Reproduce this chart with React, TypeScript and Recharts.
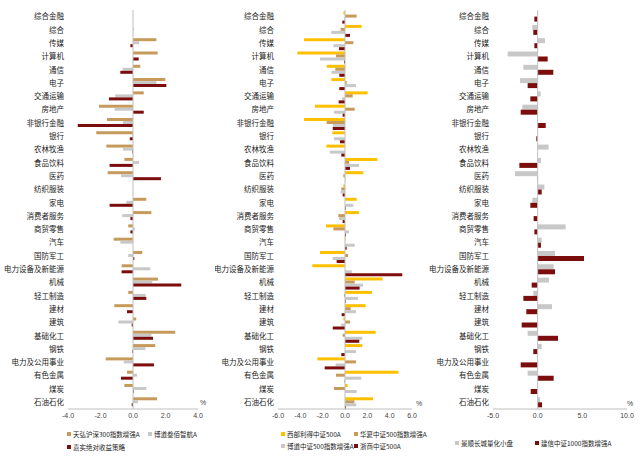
import React from 'react';
import { BarChart, Bar, XAxis, YAxis, ReferenceLine } from 'recharts';

const categories = ['综合金融','综合','传媒','计算机','通信','电子','交通运输','房地产','非银行金融','银行','农林牧渔','食品饮料','医药','纺织服装','家电','消费者服务','商贸零售','汽车','国防军工','电力设备及新能源','机械','轻工制造','建材','建筑','基础化工','钢铁','电力及公用事业','有色金属','煤炭','石油石化'];

// Panel 1
const p1Names = ['天弘沪深300指数增强A','博道叁佰智航A','嘉实绝对收益策略'];
const p1Tianhong = [0,0,1.44,1.52,0.45,1.99,0.66,-2.09,-1.6,-2.26,-1.64,-0.53,-1.56,0,0.82,1.13,-0.29,-1.19,0.57,-0.7,1.54,-0.29,-1.15,0.2,2.6,1.37,-1.68,-0.37,-0.53,1.48];
const p1Bodao = [0,0.05,0.37,0,-0.64,1.44,-1.09,-1.13,-0.62,-0.05,-0.62,0.37,-0.74,0,-0.41,-0.66,0.12,-0.78,-0.29,1.07,1.19,0.78,0,-0.9,1.13,0.76,-0.57,0.25,0.82,0.31];
const p1Jiashi = [0,0,-0.16,0.35,-0.78,2.05,-1.48,0.66,-3.4,-0.2,-0.04,-1.44,1.72,0,-1.44,-0.16,-0.16,0,0.08,-0.7,2.97,0.82,-0.37,-0.08,1.23,-0.04,1.29,-0.74,0.04,-0.08];
const p1Ticks = [-4,-2,0,2,4];

// Panel 2
const p2Names = ['西部利得中证500A','华夏中证500指数增强A','博道中证500指数增强A','浙商中证500A'];
const p2Xibu = [-0.15,1.49,-3.67,-4.27,-1.64,-1.22,2.03,-2.69,-3.67,-1.13,-1.67,2.9,1.64,-0.15,1.04,1.25,-1.7,0.06,-2.24,-2.93,3.37,2.42,1.85,-0.15,2.75,1.55,-2.48,4.78,0.24,2.51];
const p2Huaxia = [1.04,-0.39,0.75,-0.81,-0.87,0.15,0.69,0.87,-1.64,0,0,0.36,-0.15,-0.33,0,-0.6,-1.04,0,0.27,0,0.87,-0.09,0.51,0.45,-0.21,0,0.99,-0.81,-0.99,0.84];
const p2Bodao = [-0.05,-1.22,-1.04,-2.24,-1.22,0.99,-0.27,-0.99,-1.1,-0.99,-1.34,1.25,0.06,-0.39,0.75,-0.54,0.36,0.87,-1.1,0.6,1.61,1.16,0.99,-0.33,1.55,0.99,-0.84,1.46,1.04,1.01];
const p2Zheshang = [-0.24,0.45,-0.54,-0.09,-0.51,-0.51,-0.57,-0.21,-1.1,-0.45,-0.33,0.45,0,-0.21,0.06,-0.21,0.09,0.15,-0.75,5.13,1.31,0.06,-0.3,-1.1,1.28,-0.33,-1.82,-0.03,0,0.09];
const p2Ticks = [-6,-4,-2,0,2,4,6];

// Panel 3
const p3Names = ['景顺长城量化小盘','建信中证1000指数增强A'];
const p3Jingshun = [0,-0.6,0.82,-3.36,-1.6,-1.98,0.34,-1.72,0,0,1.23,0.37,-2.54,0.75,-0.6,0,3.13,0.45,1.94,1.79,1.27,-0.49,1.6,0,-1.12,0.45,0,-1.12,0,0.26];
const p3Jianxin = [-0.37,-0.49,-0.37,1.12,1.75,-1.12,-0.82,-1.9,0.9,-0.15,0,-2.05,0.04,0.45,-0.82,-0.45,-0.37,0.37,5.19,1.94,-0.67,-1.6,-1.27,-1.79,2.28,-0.49,-1.9,1.79,-0.78,0.49];
const p3Ticks = [-5,0,5,10];

const TAN = '#C59A5B';
const GRAY = '#C8C8C8';
const MAROON = '#7B0D0D';
const YELLOW = '#FFC000';
const CJK = '"Noto Sans CJK SC", "Noto Sans", sans-serif';
const LAT = '"Liberation Sans", Arial, sans-serif';

const p1Data = categories.map((name, i) => ({ name, a: p1Tianhong[i], b: p1Bodao[i], c: p1Jiashi[i] }));
const p2Data = categories.map((name, i) => ({ name, a: p2Xibu[i], b: p2Huaxia[i], c: p2Bodao[i], d: p2Zheshang[i] }));
const p3Data = categories.map((name, i) => ({ name, a: p3Jingshun[i], b: p3Jianxin[i] }));

type Series = { key: string; color: string };

function Panel(props: { left: number; data: any[]; series: Series[]; domain: [number, number]; ticks: number[]; yw: number; mr: number }) {
  const { left, data, series, domain, ticks, yw, mr } = props;
  return (
    <div style={{ position: 'absolute', left, top: 0 }}>
      <BarChart width={215} height={425} data={data} layout="vertical" margin={{ top: 10, right: mr, bottom: 0, left: 0 }} barCategoryGap="12%" barGap={0}>
        <XAxis type="number" domain={domain} ticks={ticks} tickFormatter={(v: number) => v.toFixed(1)} axisLine={{ stroke: '#BFBFBF' }} tickLine={false} tickSize={0} tickMargin={4} height={16} tick={{ fontSize: 7, fill: '#444', fontFamily: LAT }} interval={0} allowDataOverflow />
        <YAxis type="category" dataKey="name" width={yw} axisLine={false} tickLine={false} tickSize={2} tickMargin={2} interval={0} tick={{ fontSize: 7.5, fill: '#222', fontFamily: CJK }} />
        <ReferenceLine x={0} stroke="#BFBFBF" />
        {series.map((s) => (
          <Bar key={s.key} dataKey={s.key} fill={s.color} isAnimationActive={false} />
        ))}
      </BarChart>
    </div>
  );
}

function LegendItem(props: { x: number; y: number; color: string; label: string }) {
  return (
    <div style={{ position: 'absolute', left: props.x, top: props.y - 5, height: 10, display: 'flex', alignItems: 'center', whiteSpace: 'nowrap', fontFamily: CJK, fontSize: 6.5, color: '#222' }}>
      <span style={{ display: 'inline-block', width: 4, height: 4, background: props.color, marginRight: 2 }} />
      {props.label}
    </div>
  );
}

function Pct(props: { x: number; y: number }) {
  return <div style={{ position: 'absolute', left: props.x, top: props.y - 5, fontSize: 7, fontFamily: LAT, color: '#444', lineHeight: '10px' }}>%</div>;
}

export default function App() {
  return (
    <div style={{ position: 'absolute', left: 0, top: 0, width: 640, height: 457, background: '#fff', overflow: 'hidden' }}>
      <Panel left={0} data={p1Data} series={[{ key: 'a', color: TAN }, { key: 'b', color: GRAY }, { key: 'c', color: MAROON }]} domain={[-4, 4]} ticks={p1Ticks} yw={68} mr={17} />
      <Panel left={215} data={p2Data} series={[{ key: 'a', color: YELLOW }, { key: 'b', color: TAN }, { key: 'c', color: GRAY }, { key: 'd', color: MAROON }]} domain={[-6, 6]} ticks={p2Ticks} yw={63} mr={18} />
      <Panel left={425} data={p3Data} series={[{ key: 'a', color: GRAY }, { key: 'b', color: MAROON }]} domain={[-5, 10]} ticks={p3Ticks} yw={68} mr={13} />
      <Pct x={200} y={403} />
      <Pct x={416} y={404} />
      <Pct x={627} y={404} />
      <LegendItem x={67} y={434} color={TAN} label={p1Names[0]} />
      <LegendItem x={148} y={434} color={GRAY} label={p1Names[1]} />
      <LegendItem x={67} y={447} color={MAROON} label={p1Names[2]} />
      <LegendItem x={281} y={434} color={YELLOW} label={p2Names[0]} />
      <LegendItem x={354} y={434} color={TAN} label={p2Names[1]} />
      <LegendItem x={281} y={446} color={GRAY} label={p2Names[2]} />
      <LegendItem x={354} y={446} color={MAROON} label={p2Names[3]} />
      <LegendItem x={455} y={443} color={GRAY} label={p3Names[0]} />
      <LegendItem x={535} y={443} color={MAROON} label={p3Names[1]} />
    </div>
  );
}
